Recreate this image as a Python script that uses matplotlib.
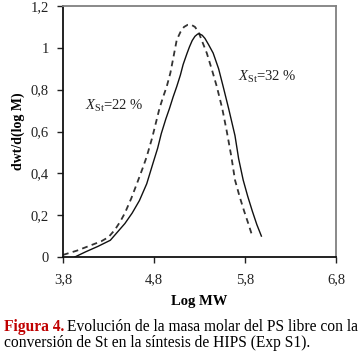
import matplotlib
matplotlib.use("Agg")
import matplotlib.pyplot as plt

# Data (log MW vs dwt/d(log M))
x_32 = [3.93, 4.05, 4.18, 4.32, 4.40, 4.48, 4.56, 4.64, 4.72, 4.79, 4.84, 4.88, 4.93, 4.97, 5.01, 5.05, 5.09, 5.12, 5.16, 5.19, 5.22, 5.25, 5.28, 5.30, 5.33, 5.36, 5.40, 5.45, 5.51, 5.56, 5.62, 5.69, 5.73, 5.78, 5.83, 5.88, 5.93, 5.98]
y_32 = [0.00, 0.025, 0.05, 0.08, 0.12, 0.16, 0.21, 0.27, 0.35, 0.45, 0.52, 0.59, 0.66, 0.71, 0.765, 0.815, 0.87, 0.92, 0.97, 1.005, 1.035, 1.055, 1.066, 1.067, 1.06, 1.045, 1.015, 0.975, 0.90, 0.815, 0.71, 0.58, 0.47, 0.368, 0.29, 0.22, 0.155, 0.10]

x_22 = [3.80, 3.95, 4.10, 4.22, 4.30, 4.37, 4.43, 4.48, 4.55, 4.62, 4.68, 4.72, 4.78, 4.82, 4.86, 4.90, 4.94, 4.98, 5.02, 5.05, 5.09, 5.13, 5.17, 5.21, 5.25, 5.29, 5.33, 5.38, 5.44, 5.49, 5.55, 5.60, 5.65, 5.69, 5.74, 5.79, 5.84, 5.88]
y_22 = [0.01, 0.03, 0.055, 0.075, 0.095, 0.13, 0.17, 0.21, 0.28, 0.36, 0.43, 0.48, 0.57, 0.64, 0.71, 0.765, 0.815, 0.88, 0.97, 1.038, 1.075, 1.10, 1.11, 1.11, 1.10, 1.075, 1.03, 0.975, 0.89, 0.815, 0.71, 0.60, 0.48, 0.368, 0.29, 0.22, 0.155, 0.10]

x_ticks = [3.8, 4.8, 5.8, 6.8]
x_ticklabels = ["3,8", "4,8", "5,8", "6,8"]
y_ticks = [0, 0.2, 0.4, 0.6, 0.8, 1.0, 1.2]
y_ticklabels = ["0", "0,2", "0,4", "0,6", "0,8", "1", "1,2"]

plt.rcParams['font.family'] = ['Liberation Serif', 'DejaVu Serif']
plt.rcParams['mathtext.fontset'] = 'custom'
plt.rcParams['mathtext.rm'] = 'Liberation Serif'
plt.rcParams['mathtext.it'] = 'Liberation Serif:italic'

W, H = 361, 352
fig = plt.figure(figsize=(W / 100, H / 100), dpi=100)
ax = fig.add_axes([63 / W, 1 - 257 / H, (336 - 63) / W, (257 - 6) / H])

ax.plot(x_22, y_22, color='#333333', lw=1.3, linestyle=(0, (3.2, 2.4)))
ax.plot(x_32, y_32, color='#111111', lw=1.0)

ax.set_xlim(3.8, 6.8)
ax.set_ylim(0, 1.2)
ax.set_xticks(x_ticks)
ax.set_xticklabels(x_ticklabels)
ax.set_yticks(y_ticks)
ax.set_yticklabels(y_ticklabels)
ax.tick_params(axis='both', direction='out', length=4, width=1, labelsize=10.5,
               colors='#222222', pad=6)
ax.tick_params(axis='x', pad=8)

for side in ['left', 'bottom']:
    ax.spines[side].set_color('#111111')
    ax.spines[side].set_linewidth(1.3)
for side in ['top', 'right']:
    ax.spines[side].set_color('#808080')
    ax.spines[side].set_linewidth(1.3)

ax.set_xlabel('Log MW', fontsize=10.5, fontweight='bold', labelpad=6)
ax.set_ylabel('dwt/d(log M)', fontsize=10, fontweight='bold', labelpad=4)

ax.text(4.04, 0.72, r'$\mathit{X}_{\mathrm{St}}$=22 %', fontsize=10.5, color='#222222',
        va='center', ha='left')
ax.text(5.72, 0.86, r'$\mathit{X}_{\mathrm{St}}$=32 %', fontsize=10.5, color='#222222',
        va='center', ha='left')

# Caption
fs = 11.2
t1 = fig.text(4 / W, 1 - 327 / H, 'Figura 4.', color='#c00000', fontweight='bold',
              fontsize=fs, va='center', ha='left')
fig.canvas.draw()
r = fig.canvas.get_renderer()
bb = t1.get_window_extent(renderer=r)
fig.text(bb.x1 / W + 3 / W, 1 - 327 / H, 'Evolución de la masa molar del PS libre con la',
         color='black', fontsize=fs, va='center', ha='left')
fig.text(4 / W, 1 - 343 / H, 'conversión de St en la síntesis de HIPS (Exp S1).',
         color='black', fontsize=fs, va='center', ha='left')

fig.savefig('out.png', dpi=100)
